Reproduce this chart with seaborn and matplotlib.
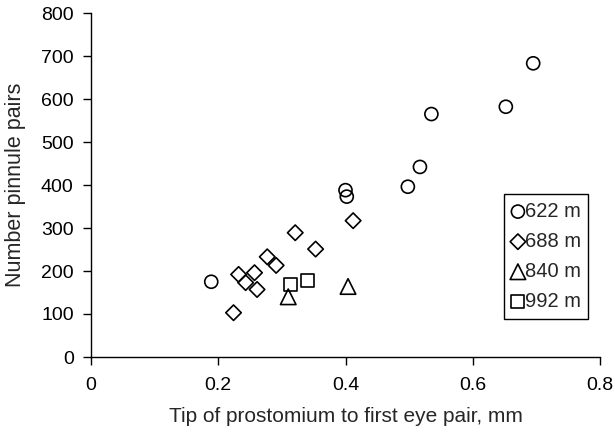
import matplotlib
matplotlib.use("Agg")
import matplotlib.pyplot as plt
import seaborn as sns
import pandas as pd

# ---- data ----
x_622 = [0.189, 0.400, 0.402, 0.498, 0.517, 0.535, 0.652, 0.695]
y_622 = [175, 388, 373, 396, 442, 565, 582, 683]

x_688 = [0.224, 0.232, 0.257, 0.243, 0.261, 0.277, 0.291, 0.321, 0.353, 0.412]
y_688 = [103, 192, 196, 173, 157, 233, 213, 289, 251, 317]

x_840 = [0.310, 0.404]
y_840 = [140, 164]

x_992 = [0.314, 0.341]
y_992 = [169, 177]

depths = ["622 m", "688 m", "840 m", "992 m"]
xlabel = "Tip of prostomium to first eye pair, mm"
ylabel = "Number pinnule pairs"
xticks = [0, 0.2, 0.4, 0.6, 0.8]
xticklabels = ["0", "0.2", "0.4", "0.6", "0.8"]
yticks = [0, 100, 200, 300, 400, 500, 600, 700, 800]

sns.set_theme(style="ticks")
plt.rcParams["font.family"] = ["Liberation Sans", "DejaVu Sans"]

fig = plt.figure(figsize=(6.15, 4.38), dpi=100)
ax = fig.add_axes([91 / 615, 1 - 357 / 438, (600 - 91) / 615, (357 - 13) / 438])

groups = [
    (x_622, y_622, "o", 88),
    (x_688, y_688, "D", 62),
    (x_840, y_840, "^", 125),
    (x_992, y_992, "s", 88),
]
for (xs, ys, mk, s), lab in zip(groups, depths):
    df = pd.DataFrame({"x": xs, "y": ys})
    sns.scatterplot(data=df, x="x", y="y", marker=mk, s=s, facecolor="none",
                    edgecolor="black", linewidth=1.2, ax=ax, label=lab)

ax.set_xlim(0, 0.8)
ax.set_ylim(0, 800)
ax.set_xticks(xticks)
ax.set_xticklabels(xticklabels)
ax.set_yticks(yticks)
ax.set_xlabel(xlabel, fontsize=15, labelpad=9)
ax.set_ylabel(ylabel, fontsize=15.5, labelpad=11)
ax.tick_params(axis="both", direction="out", length=5.5, width=1, colors="black",
               labelsize=14, pad=7)
ax.tick_params(axis="x", pad=9)
for sp in ["top", "right"]:
    ax.spines[sp].set_visible(False)
for sp in ["left", "bottom"]:
    ax.spines[sp].set_color("black")
    ax.spines[sp].set_linewidth(1)

leg = ax.legend(loc="lower left", bbox_to_anchor=(0.811, 0.11, 0.165, 0.358),
                mode="expand", frameon=True, fancybox=False, framealpha=1,
                edgecolor="black", fontsize=14.5, handletextpad=0.05,
                handlelength=0.6, labelspacing=0.55, borderpad=0.4,
                borderaxespad=0, markerscale=1.0)
leg.get_frame().set_linewidth(1)

fig.savefig("out.png", dpi=100)
